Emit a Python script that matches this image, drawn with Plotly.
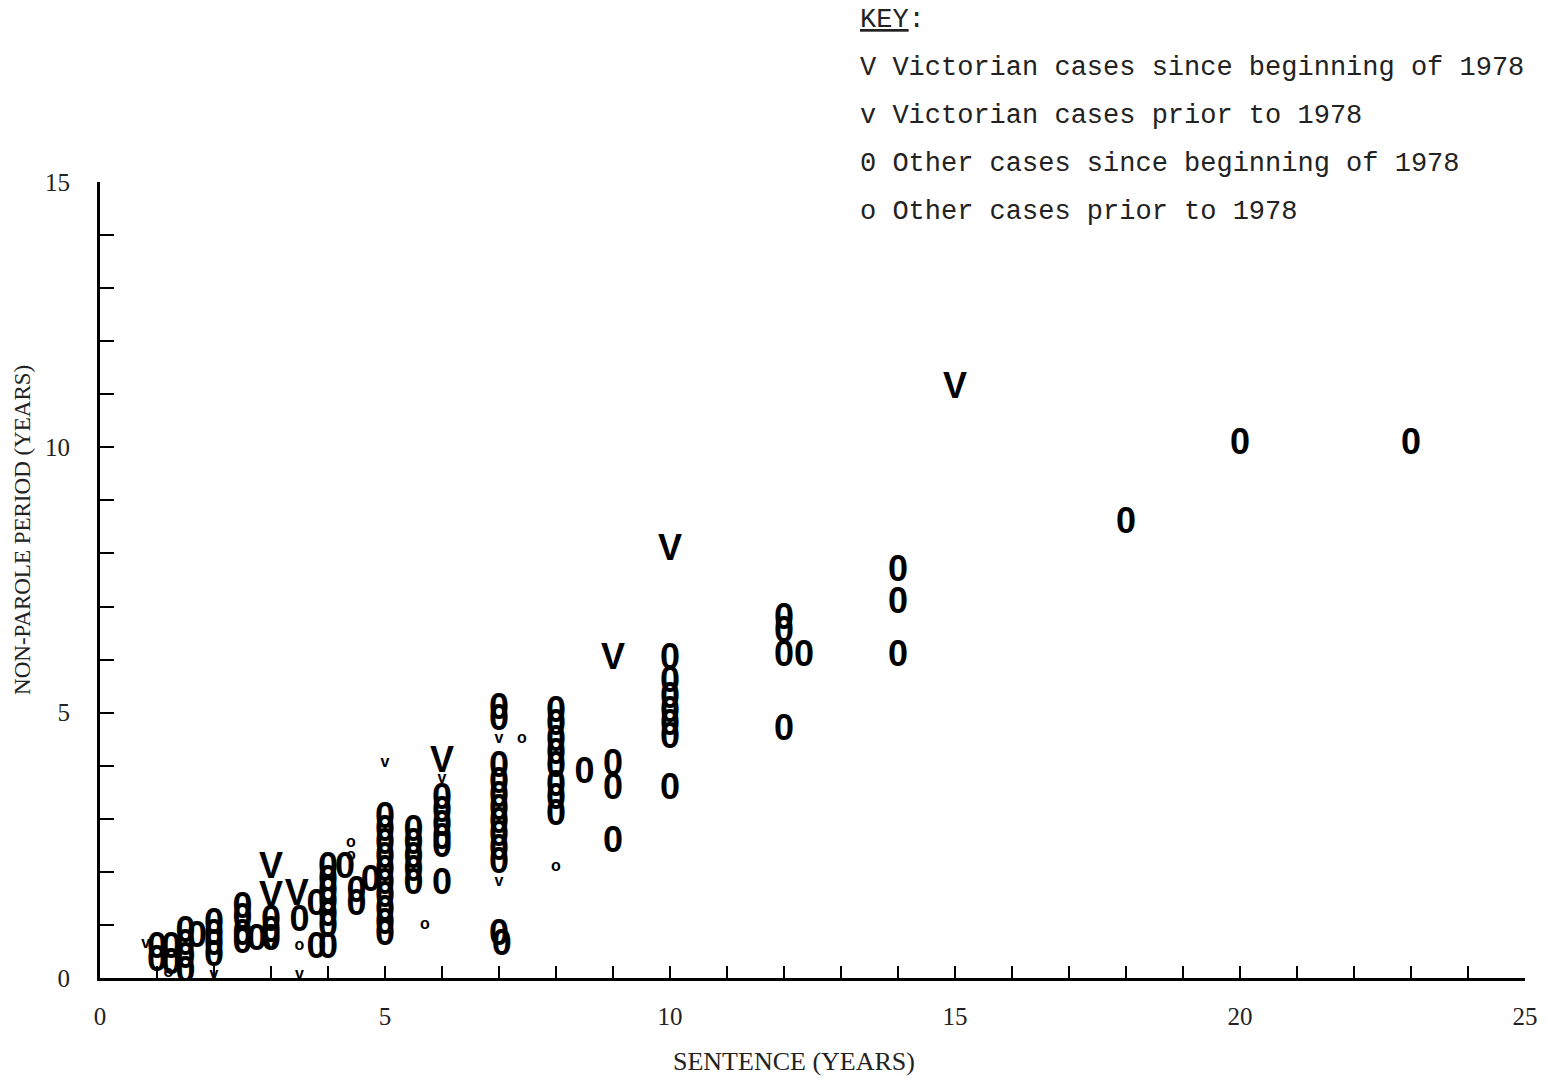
import plotly.graph_objects as go

# Victorian cases since beginning of 1978 ("V")
vic_new_x = [3, 3, 3.45, 6, 9, 10, 15]
vic_new_y = [2.05, 1.5, 1.55, 4.05, 6.0, 8.05, 11.1]

# Victorian cases prior to 1978 ("v")
vic_old_x = [0.8, 5, 6, 7, 7, 2, 3, 3.5]
vic_old_y = [0.65, 4.05, 3.75, 4.5, 1.8, 0.05, 0.6, 0.05]

# Other cases since beginning of 1978 ("0")
oth_new_x = [1.0, 1.0, 1.25, 1.25, 1.5, 1.5, 1.5, 1.5, 1.7,
             2, 2, 2, 2, 2.5, 2.5, 2.5, 2.5, 2.75, 3, 3, 3, 3.5,
             3.8, 3.8, 4.0, 4, 4, 4, 4, 4, 4, 4.3, 4.5, 4.5, 4.75,
             5, 5, 5, 5, 5, 5, 5, 5, 5, 5,
             5.5, 5.5, 5.5, 5.5, 5.5,
             6, 6, 6, 6, 6, 6,
             7, 7, 7, 7, 7, 7, 7, 7, 7, 7, 7, 7.05,
             8, 8, 8, 8, 8, 8, 8, 8, 8.5,
             9, 9, 9,
             10, 10, 10, 10, 10, 10, 10,
             12, 12, 12, 12.35, 12,
             14, 14, 14, 18, 20, 23]
oth_new_y = [0.55, 0.3, 0.55, 0.25, 0.85, 0.6, 0.35, 0.1, 0.75,
             1.0, 0.8, 0.6, 0.4, 1.3, 1.1, 0.8, 0.65, 0.7, 1.05, 0.85, 0.7, 1.05,
             1.35, 0.55, 0.55, 2.05, 1.8, 1.6, 1.4, 1.15, 0.95, 2.05, 1.6, 1.35, 1.8,
             3.0, 2.75, 2.5, 2.25, 2.0, 1.75, 1.5, 1.25, 1.0, 0.8,
             2.75, 2.5, 2.25, 2.0, 1.75,
             3.35, 3.1, 2.85, 2.6, 2.45, 1.75,
             5.05, 4.85, 3.95, 3.65, 3.4, 3.15, 2.9, 2.65, 2.4, 2.15, 0.8, 0.6,
             5.0, 4.75, 4.45, 4.2, 3.95, 3.6, 3.35, 3.05, 3.85,
             4.0, 3.55, 2.55,
             6.0, 5.55, 5.25, 5.0, 4.75, 4.5, 3.55,
             6.75, 6.5, 6.05, 6.05, 4.65,
             7.65, 7.05, 6.05, 8.55, 10.05, 10.05]

# Other cases prior to 1978 ("o")
oth_old_x = [4.4, 4.4, 5.7, 7.4, 8, 3.5, 1.2]
oth_old_y = [2.55, 2.3, 1.0, 4.5, 2.1, 0.6, 0.1]

key_lines = ["V Victorian cases since beginning of 1978",
             "v Victorian cases prior to 1978",
             "0 Other cases since beginning of 1978",
             "o Other cases prior to 1978"]

x_ticks = [0, 5, 10, 15, 20, 25]
y_ticks = [0, 5, 10, 15]

BIG = dict(family="Liberation Sans Narrow, Liberation Sans, Arial", size=36, color="black", weight="bold")
SMALL = dict(family="Liberation Sans Narrow, Liberation Sans, Arial", size=16, color="black", weight="bold")

fig = go.Figure()
fig.add_trace(go.Scatter(x=oth_new_x, y=oth_new_y, mode="text", text=["0"] * len(oth_new_x),
                         textfont=BIG, showlegend=False, hoverinfo="x+y"))
fig.add_trace(go.Scatter(x=vic_new_x, y=vic_new_y, mode="text", text=["V"] * len(vic_new_x),
                         textfont=BIG, showlegend=False, hoverinfo="x+y"))
fig.add_trace(go.Scatter(x=vic_old_x, y=vic_old_y, mode="text", text=["v"] * len(vic_old_x),
                         textfont=SMALL, showlegend=False, hoverinfo="x+y"))
fig.add_trace(go.Scatter(x=oth_old_x, y=oth_old_y, mode="text", text=["o"] * len(oth_old_x),
                         textfont=SMALL, showlegend=False, hoverinfo="x+y"))

tickfont = dict(family="Liberation Serif, DejaVu Serif", size=25, color="#222")
fig.update_xaxes(range=[0, 25], tickvals=x_ticks, ticktext=[str(v) for v in x_ticks],
                 ticks="inside", ticklen=12, tickwidth=2, tickcolor="black",
                 minor=dict(dtick=1, ticks="inside", ticklen=12, tickwidth=2, tickcolor="black"),
                 showline=True, linecolor="black", linewidth=3, showgrid=False, zeroline=False,
                 tickfont=tickfont, ticklabelstandoff=14)
fig.update_yaxes(range=[0, 15], tickvals=y_ticks, ticktext=[str(v) for v in y_ticks],
                 ticks="inside", ticklen=14, tickwidth=2, tickcolor="black",
                 minor=dict(dtick=1, ticks="inside", ticklen=14, tickwidth=2, tickcolor="black"),
                 showline=True, linecolor="black", linewidth=3, showgrid=False, zeroline=False,
                 tickfont=tickfont, ticklabelstandoff=22)

annotations = []
keyfont = dict(family="Liberation Mono, DejaVu Sans Mono", size=27, color="#222")
annotations.append(dict(x=0.532, y=1.2035, xref="paper", yref="paper", text="<u>KEY</u>:",
                        showarrow=False, xanchor="left", yanchor="middle", font=keyfont))
for i, line in enumerate(key_lines):
    annotations.append(dict(x=0.532, y=1.143 - i * 0.0603, xref="paper", yref="paper", text=line,
                            showarrow=False, xanchor="left", yanchor="middle", font=keyfont))
annotations.append(dict(x=0.487, y=-0.1055, xref="paper", yref="paper", text="SENTENCE (YEARS)",
                        showarrow=False, xanchor="center", yanchor="middle",
                        font=dict(family="Liberation Serif, DejaVu Serif", size=26, color="#222")))
annotations.append(dict(x=-0.054, y=0.563, xref="paper", yref="paper", text="NON-PAROLE PERIOD (YEARS)",
                        showarrow=False, xanchor="center", yanchor="middle", textangle=-90,
                        font=dict(family="Liberation Serif, DejaVu Serif", size=23, color="#222")))

fig.update_layout(width=1550, height=1078, margin=dict(l=100, r=18, t=182, b=100),
                  plot_bgcolor="white", paper_bgcolor="white", annotations=annotations)
fig.write_html("out.html")
